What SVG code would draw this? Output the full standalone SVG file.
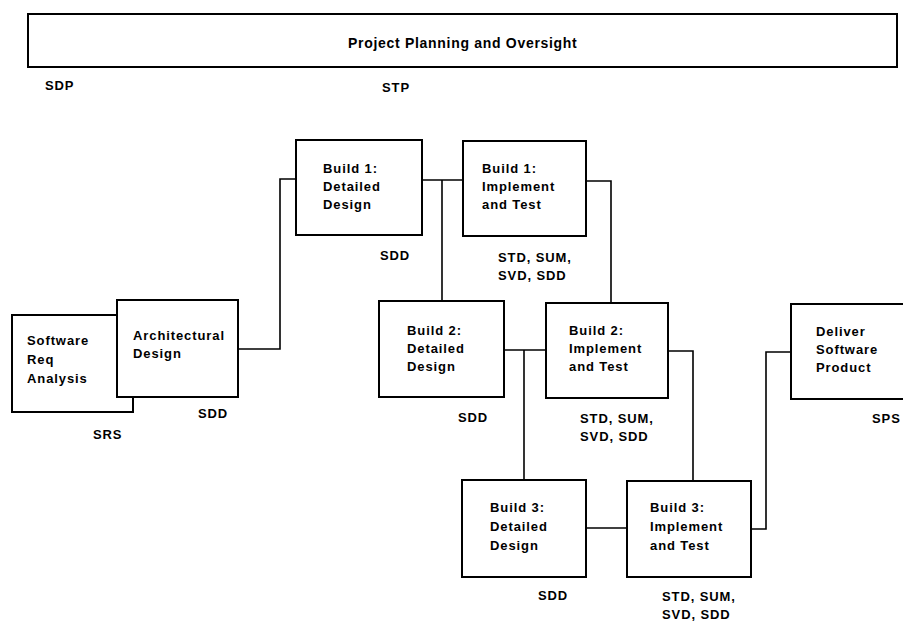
<svg xmlns="http://www.w3.org/2000/svg" width="903" height="621" viewBox="0 0 903 621">
<style>
.box{fill:#fff;stroke:#000;stroke-width:2}
.t{font-family:"Liberation Sans",Arial,sans-serif;font-size:13px;font-weight:bold;letter-spacing:0.9px;fill:#000}
.title{font-size:14px;letter-spacing:0.7px}
.c{fill:none;stroke:#000;stroke-width:1.6}
</style>
<rect width="903" height="621" fill="#fff"/>
<g id="connectors">
<polyline class="c" points="238,349 280,349 280,179 296,179"/>
<polyline class="c" points="422,180 463,180"/>
<polyline class="c" points="442,180 442,301"/>
<polyline class="c" points="586,181 611,181 611,303"/>
<polyline class="c" points="504,350 546,350"/>
<polyline class="c" points="524,350 524,480"/>
<polyline class="c" points="668,351 693,351 693,481"/>
<polyline class="c" points="586,528 627,528"/>
<polyline class="c" points="751,529 766,529 766,352 791,352"/>
</g>
<g id="planning">
<rect class="box" x="28" y="14" width="869" height="53"/>
<text class="t title" x="348" y="48">Project Planning and Oversight</text>
<text class="t" x="45" y="90">SDP</text>
<text class="t" x="382" y="92">STP</text>
</g>
<g id="swreq">
<rect class="box" x="12" y="315" width="121" height="97"/>
<text class="t" x="27" y="345">Software</text>
<text class="t" x="27" y="364">Req</text>
<text class="t" x="27" y="383">Analysis</text>
<text class="t" x="93" y="439">SRS</text>
</g>
<g id="arch">
<rect class="box" x="117" y="300" width="121" height="97"/>
<text class="t" x="133" y="340">Architectural</text>
<text class="t" x="133" y="358">Design</text>
<text class="t" x="198" y="418">SDD</text>
</g>
<g id="b1dd">
<rect class="box" x="296" y="140" width="126" height="95"/>
<text class="t" x="323" y="173">Build 1:</text>
<text class="t" x="323" y="191">Detailed</text>
<text class="t" x="323" y="209">Design</text>
<text class="t" x="380" y="260">SDD</text>
</g>
<g id="b1it">
<rect class="box" x="463" y="141" width="123" height="95"/>
<text class="t" x="482" y="173">Build 1:</text>
<text class="t" x="482" y="191">Implement</text>
<text class="t" x="482" y="209">and Test</text>
<text class="t" x="498" y="262">STD, SUM,</text>
<text class="t" x="498" y="280">SVD, SDD</text>
</g>
<g id="b2dd">
<rect class="box" x="379" y="301" width="125" height="96"/>
<text class="t" x="407" y="335">Build 2:</text>
<text class="t" x="407" y="353">Detailed</text>
<text class="t" x="407" y="371">Design</text>
<text class="t" x="458" y="422">SDD</text>
</g>
<g id="b2it">
<rect class="box" x="546" y="303" width="122" height="95"/>
<text class="t" x="569" y="335">Build 2:</text>
<text class="t" x="569" y="353">Implement</text>
<text class="t" x="569" y="371">and Test</text>
<text class="t" x="580" y="423">STD, SUM,</text>
<text class="t" x="580" y="441">SVD, SDD</text>
</g>
<g id="b3dd">
<rect class="box" x="462" y="480" width="124" height="97"/>
<text class="t" x="490" y="512">Build 3:</text>
<text class="t" x="490" y="531">Detailed</text>
<text class="t" x="490" y="550">Design</text>
<text class="t" x="538" y="600">SDD</text>
</g>
<g id="b3it">
<rect class="box" x="627" y="481" width="124" height="96"/>
<text class="t" x="650" y="512">Build 3:</text>
<text class="t" x="650" y="531">Implement</text>
<text class="t" x="650" y="550">and Test</text>
<text class="t" x="662" y="601">STD, SUM,</text>
<text class="t" x="662" y="619">SVD, SDD</text>
</g>
<g id="deliver">
<rect class="box" x="791" y="304" width="120" height="95"/>
<text class="t" x="816" y="336">Deliver</text>
<text class="t" x="816" y="354">Software</text>
<text class="t" x="816" y="372">Product</text>
<text class="t" x="872" y="423">SPS</text>
</g>
</svg>
